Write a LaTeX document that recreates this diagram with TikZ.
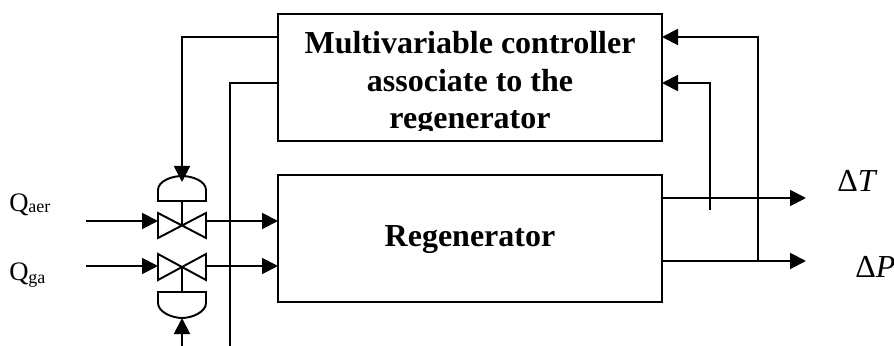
\documentclass[tikz,border=0pt]{standalone}
\usepackage{fontspec}
\setmainfont{Liberation Serif}
\usetikzlibrary{arrows.meta}
\tikzset{
  x=0.75pt,y=-0.75pt,
  wire/.style={draw=black,line width=1.45pt,line join=miter},
  flow/.style={wire,-{Triangle[length=12pt,width=12pt]}},
  blockbox/.style={draw=black,line width=1.45pt,fill=white,minimum width=288pt,minimum height=95.25pt,inner sep=0pt,outer sep=0pt},
  heading/.style={font=\fontsize{24pt}{28pt}\bfseries\selectfont,inner sep=0pt,anchor=base,text=black},
  lbl/.style={font=\fontsize{20pt}{22pt}\selectfont,inner sep=0pt,anchor=base west,text=black},
  sublbl/.style={font=\fontsize{13.5pt}{15pt}\selectfont,inner sep=0pt,anchor=base west,text=black},
  delta/.style={font=\fontsize{24pt}{26pt}\selectfont,inner sep=0pt,anchor=base west,text=black}
}
\begin{document}
\begin{tikzpicture}
\useasboundingbox (0,0) rectangle (894,346);
\node[blockbox,anchor=north west] (ctrl) at (278,14) {};
\node[blockbox,anchor=north west] (reg) at (278,175) {};
\begin{scope}
\clip (279,15) rectangle (661,130.5);
\node[heading] (l1) at (470,54) {Multivariable controller};
\node[heading] (l2) at (470,92) {associate to the};
\node[heading] (l3) at (470,129) {regenerator};
\end{scope}
\node[heading] (regtext) at (470,247) {Regenerator};
% valves
\coordinate (vu) at (182,226);
\coordinate (vl) at (182,267);
\draw[wire,fill=white] (158,213) -- (206,238) -- (206,213) -- (158,238) -- cycle;
\draw[wire,fill=white] (158,254) -- (206,280) -- (206,254) -- (158,280) -- cycle;
\draw[wire] (158,201) -- (158,190) .. controls (158,181) and (172,176) .. (182,176) .. controls (192,176) and (206,181) .. (206,190) -- (206,201) -- cycle;
\draw[wire] (158,292) -- (158,303) .. controls (158,312) and (172,318) .. (182,318) .. controls (192,318) and (206,312) .. (206,303) -- (206,292) -- cycle;
\draw[wire] (182,201) -- (vu);
\draw[wire] (182,292) -- (vl);
% inputs
\coordinate (qa) at (86,221);
\coordinate (qg) at (86,266);
\draw[flow] (qa) -- (158,221);
\draw[flow] (qg) -- (158,266);
\draw[flow] (206,221) -- (278,221);
\draw[flow] (206,266) -- (278,266);
% control lines
\coordinate (c1) at (278,37);
\coordinate (c2) at (278,83);
\draw[flow] (c1) -- (182,37) -- (182,182);
\draw[wire] (c2) -- (230,83) -- (230,346);
\draw[flow] (182,346) -- (182,318);
% outputs
\draw[flow] (662,198) -- (806,198);
\draw[flow] (662,261) -- (806,261);
\draw[flow] (710,210) -- (710,83) -- (662,83);
\draw[flow] (758,261) -- (758,37) -- (662,37);
% labels
\node[lbl] (qaer) at (9,211) {Q};
\node[sublbl] (qaers) at (28,213) {aer};
\node[lbl] (qgb) at (9,281) {Q};
\node[sublbl] (qgs) at (28,283) {ga};
\node[delta] (dt) at (837,192) {Δ\textit{T}};
\node[delta] (dp) at (855,277) {Δ\textit{P}};
\end{tikzpicture}
\end{document}
